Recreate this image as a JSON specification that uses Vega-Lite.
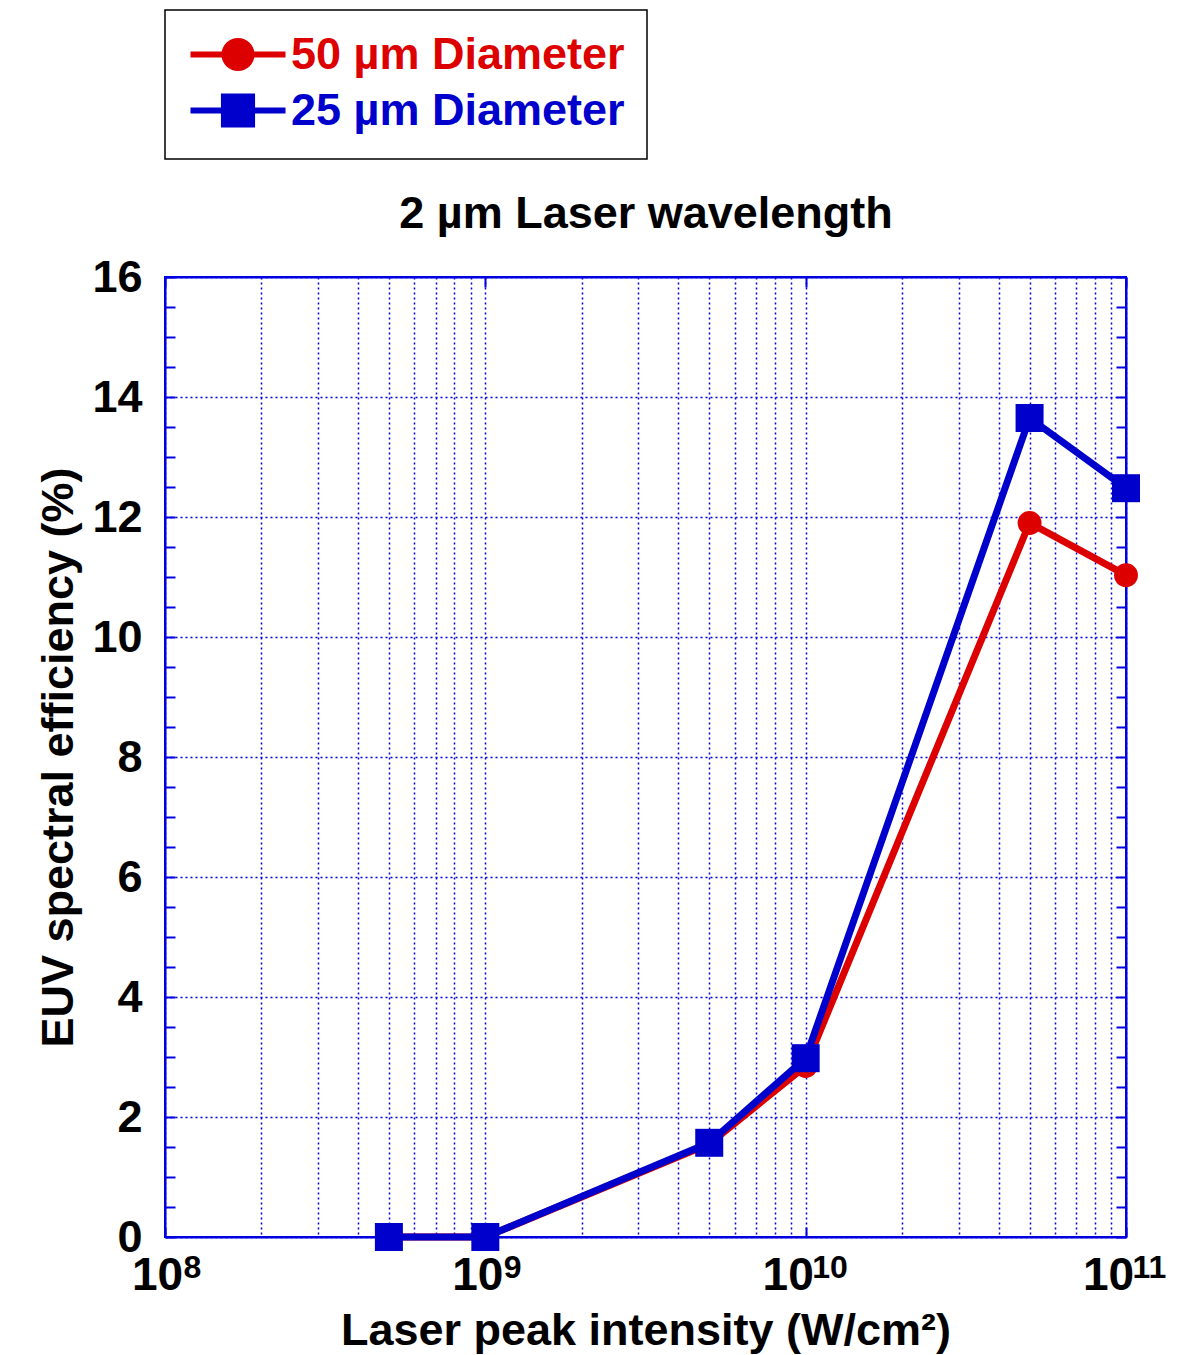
{
  "$schema": "https://vega.github.io/schema/vega-lite/v6.json",
  "autosize": "none",
  "width": 961,
  "height": 960,
  "padding": {"left": 165, "top": 277, "right": 65, "bottom": 118},
  "background": "white",
  "config": {
    "font": "Liberation Sans",
    "view": {"stroke": "#0000e0", "strokeWidth": 2},
    "axis": {"labelFont": "Liberation Sans", "titleFont": "Liberation Sans", "domainColor": "#0000e0", "domainWidth": 2, "tickColor": "#0000e0", "tickWidth": 2}
  },
  "data": {
    "values": [
      {"series": "50 µm Diameter", "intensity": 5e8, "eff": 0},
      {"series": "50 µm Diameter", "intensity": 1e9, "eff": 0},
      {"series": "50 µm Diameter", "intensity": 5e9, "eff": 1.55},
      {"series": "50 µm Diameter", "intensity": 1e10, "eff": 2.85},
      {"series": "50 µm Diameter", "intensity": 5e10, "eff": 11.9},
      {"series": "50 µm Diameter", "intensity": 1e11, "eff": 11.03},
      {"series": "25 µm Diameter", "intensity": 5e8, "eff": 0},
      {"series": "25 µm Diameter", "intensity": 1e9, "eff": 0},
      {"series": "25 µm Diameter", "intensity": 5e9, "eff": 1.57},
      {"series": "25 µm Diameter", "intensity": 1e10, "eff": 2.98},
      {"series": "25 µm Diameter", "intensity": 5e10, "eff": 13.65},
      {"series": "25 µm Diameter", "intensity": 1e11, "eff": 12.48}
    ]
  },
  "resolve": {"axis": {"x": "independent", "y": "independent"}},
  "layer": [
    {
      "transform": [{"filter": "datum.series === '50 µm Diameter'"}],
      "mark": {"type": "line", "strokeWidth": 7, "clip": false},
      "encoding": {
        "x": {
          "field": "intensity", "type": "quantitative",
          "scale": {"type": "log", "domain": [1e8, 1e11], "nice": false},
          "axis": {
            "orient": "bottom",
            "values": [1e8,2e8,3e8,4e8,5e8,6e8,7e8,8e8,9e8,1e9,2e9,3e9,4e9,5e9,6e9,7e9,8e9,9e9,1e10,2e10,3e10,4e10,5e10,6e10,7e10,8e10,9e10,1e11],
            "labelExpr": "indexof([1e8,1e9,1e10,1e11], datum.value) >= 0 ? '10' : ''",
            "labelFontSize": 46, "labelFontWeight": "bold", "labelColor": "black", "labelPadding": 26,
            "labelOffset": {"condition": {"test": "datum.value >= 1e10", "value": -18}, "value": -8},
            "labelFlush": false, "labelOverlap": false,
            "grid": true, "gridColor": "#0000e0", "gridDash": [2, 3], "gridWidth": 1.5,
            "tickSize": -10,
            "tickOpacity": {"condition": {"test": "indexof([1e8,1e9,1e10,1e11], datum.value) >= 0", "value": 1}, "value": 0},
            "title": "Laser peak intensity (W/cm²)", "titleFontSize": 45, "titleFontWeight": "bold", "titleColor": "black", "titlePadding": 10
          }
        },
        "y": {
          "field": "eff", "type": "quantitative",
          "scale": {"domain": [0, 16], "nice": false},
          "axis": {
            "orient": "left",
            "values": [0,0.5,1,1.5,2,2.5,3,3.5,4,4.5,5,5.5,6,6.5,7,7.5,8,8.5,9,9.5,10,10.5,11,11.5,12,12.5,13,13.5,14,14.5,15,15.5,16],
            "labelExpr": "datum.value % 2 === 0 ? format(datum.value, 'd') : ''",
            "labelFontSize": 45, "labelFontWeight": "bold", "labelColor": "black", "labelPadding": 33,
            "labelFlush": false, "labelOverlap": false,
            "grid": true, "gridColor": "#0000e0", "gridDash": [2, 3], "gridWidth": 1.5,
            "gridOpacity": {"condition": {"test": "datum.value % 2 === 0", "value": 1}, "value": 0},
            "tickSize": -10,
            "title": "EUV spectral efficiency (%)", "titleFontSize": 45, "titleFontWeight": "bold", "titleColor": "black", "titlePadding": 10
          }
        },
        "color": {
          "field": "series", "type": "nominal",
          "scale": {"domain": ["50 µm Diameter", "25 µm Diameter"], "range": ["#dd0000", "#0000cc"]},
          "legend": {
            "title": null, "orient": "none", "legendX": 0, "legendY": -267,
            "padding": 22, "strokeColor": "black", "fillColor": "white",
            "symbolSize": 1444, "symbolStrokeWidth": 6,
            "labelFontSize": 45, "labelFont": "Liberation Sans", "labelFontWeight": "bold", "labelLimit": 600,
            "labelOffset": 59, "rowPadding": 4,
            "encode": {
              "legend": {"update": {"strokeWidth": {"value": 1.5}}},
              "labels": {"update": {"fill": {"signal": "datum.value === '50 µm Diameter' ? '#dd0000' : '#0000cc'"}}},
              "symbols": {"update": {
                "shape": {"signal": "datum.value === '50 µm Diameter' ? 'M-1,0H4M2.21,0A0.71,0.71,0,1,1,0.79,0A0.71,0.71,0,1,1,2.21,0Z' : 'M-1,0H4M0.76,-0.74H2.24V0.74H0.76Z'"},
                "fill": {"signal": "datum.value === '50 µm Diameter' ? '#dd0000' : '#0000cc'"},
                "stroke": {"signal": "datum.value === '50 µm Diameter' ? '#dd0000' : '#0000cc'"},
                "strokeWidth": {"value": 6},
                "size": {"value": 1444},
                "opacity": {"value": 1}
              }}
            }
          }
        }
      }
    },
    {
      "transform": [{"filter": "datum.series === '50 µm Diameter'"}],
      "mark": {"type": "point", "shape": "circle", "filled": true, "size": 570, "opacity": 1, "color": "#dd0000", "clip": false},
      "encoding": {
        "x": {
          "field": "intensity", "type": "quantitative",
          "axis": {
            "orient": "bottom",
            "values": [1e8, 1e9, 1e10, 1e11],
            "labelExpr": "datum.value == 1e8 ? '8' : datum.value == 1e9 ? '9' : datum.value == 1e10 ? '10' : '11'",
            "labelFontSize": 32, "labelFontWeight": "bold", "labelColor": "black", "labelPadding": 15,
            "labelAlign": "left",
            "labelOffset": {"condition": {"test": "datum.value >= 1e10", "value": 6}, "value": 18},
            "labelFlush": false, "labelOverlap": false,
            "grid": false, "ticks": false, "domain": false, "title": null
          }
        },
        "y": {"field": "eff", "type": "quantitative", "axis": null}
      }
    },
    {
      "transform": [{"filter": "datum.series === '25 µm Diameter'"}],
      "mark": {"type": "line", "strokeWidth": 7, "color": "#0000cc", "clip": false},
      "encoding": {
        "x": {
          "field": "intensity", "type": "quantitative",
          "axis": {
            "orient": "top",
            "values": [1e8, 1e9, 1e10, 1e11],
            "labels": false, "grid": false, "tickSize": -10,
            "title": "2 µm Laser wavelength", "titleFontSize": 45, "titleFontWeight": "bold", "titleColor": "black", "titlePadding": 40
          }
        },
        "y": {
          "field": "eff", "type": "quantitative",
          "axis": {
            "orient": "right",
            "values": [0,0.5,1,1.5,2,2.5,3,3.5,4,4.5,5,5.5,6,6.5,7,7.5,8,8.5,9,9.5,10,10.5,11,11.5,12,12.5,13,13.5,14,14.5,15,15.5,16],
            "labels": false, "grid": false, "tickSize": -10, "title": null
          }
        }
      }
    },
    {
      "transform": [{"filter": "datum.series === '25 µm Diameter'"}],
      "mark": {"type": "point", "shape": "square", "filled": true, "size": 784, "opacity": 1, "color": "#0000cc", "clip": false},
      "encoding": {
        "x": {"field": "intensity", "type": "quantitative", "axis": null},
        "y": {"field": "eff", "type": "quantitative", "axis": null}
      }
    }
  ]
}
